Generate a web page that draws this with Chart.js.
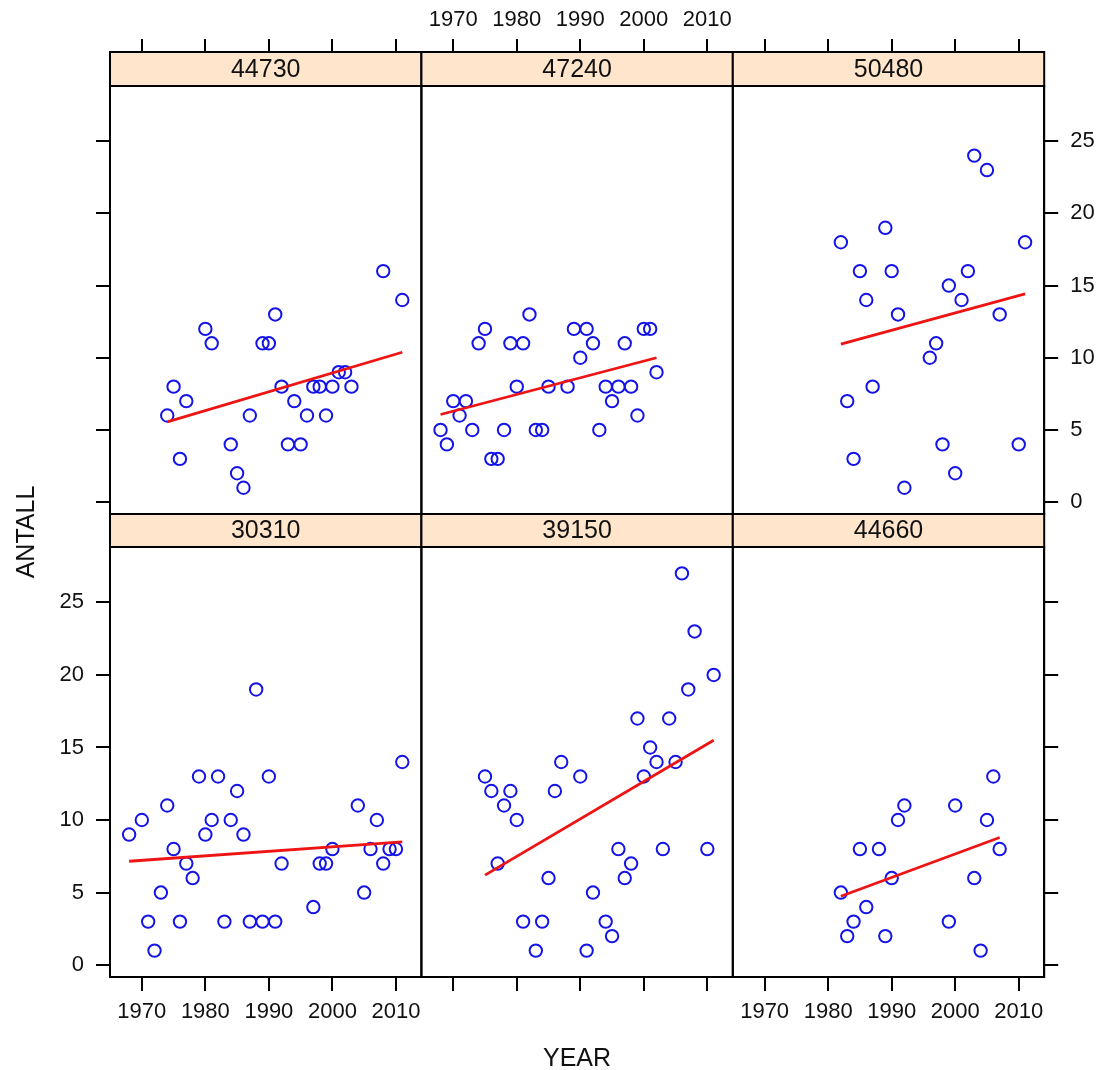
<!DOCTYPE html>
<html><head><meta charset="utf-8">
<script src="https://cdn.jsdelivr.net/npm/chart.js@4.4.1/dist/chart.umd.min.js"></script>
<style>
html,body{margin:0;padding:0;background:#fff;}
#wrap{position:relative;width:1102px;height:1070px;overflow:hidden;background:#fff;}
#wrap canvas{position:absolute;left:0;top:0;}
.lab{position:absolute;font-family:"Liberation Sans",Arial,sans-serif;font-size:25px;color:#111;white-space:nowrap;text-align:center;line-height:30px;height:30px;width:200px;}
#xlab{left:477px;top:1042px;}
#ylab{left:-75px;top:517px;transform:rotate(-90deg);}
</style></head><body>
<div id="wrap">
<canvas id="c0" width="1102" height="1070"></canvas>
<canvas id="c1" width="1102" height="1070"></canvas>
<canvas id="c2" width="1102" height="1070"></canvas>
<canvas id="c3" width="1102" height="1070"></canvas>
<canvas id="c4" width="1102" height="1070"></canvas>
<canvas id="c5" width="1102" height="1070"></canvas>
<div class="lab" id="xlab">YEAR</div>
<div class="lab" id="ylab">ANTALL</div>
</div>
<script>
// ---- data ----
const panelIds = ['44730', '47240', '50480', '30310', '39150', '44660'];

const year44730 = [1974,1975,1976,1977,1980,1981,1984,1985,1986,1987,1989,1990,1991,1992,1993,1994,1995,1996,1997,1998,1999,2000,2001,2002,2003,2008,2011];
const antall44730 = [6,8,3,7,12,11,4,2,1,6,11,11,13,8,4,7,4,6,8,8,6,8,9,9,8,16,14];
const fitYear44730 = [1974, 2011];
const fitAntall44730 = [5.56, 10.38];

const year47240 = [1968,1969,1970,1971,1972,1973,1974,1975,1976,1977,1978,1979,1980,1981,1982,1983,1984,1985,1988,1989,1990,1991,1992,1993,1994,1995,1996,1997,1998,1999,2000,2001,2002];
const antall47240 = [5,4,7,6,7,5,11,12,3,3,5,11,8,11,13,5,5,8,8,12,10,12,11,5,8,7,8,11,8,6,12,12,9];
const fitYear47240 = [1968, 2002];
const fitAntall47240 = [6.07, 10.0];

const year50480 = [1982,1983,1984,1985,1986,1987,1989,1990,1991,1992,1996,1997,1998,1999,2000,2001,2002,2003,2005,2007,2010,2011];
const antall50480 = [18,7,3,16,14,8,19,16,13,1,10,11,4,15,2,14,16,24,23,13,4,18];
const fitYear50480 = [1982, 2011];
const fitAntall50480 = [10.95, 14.42];

const year30310 = [1968,1970,1971,1972,1973,1974,1975,1976,1977,1978,1979,1980,1981,1982,1983,1984,1985,1986,1987,1988,1989,1990,1991,1992,1997,1998,1999,2000,2004,2005,2006,2007,2008,2009,2010,2011];
const antall30310 = [9,10,3,1,5,11,8,3,7,6,13,9,10,13,3,10,12,9,3,19,3,13,3,7,4,7,7,8,11,5,8,10,7,8,8,14];
const fitYear30310 = [1968, 2011];
const fitAntall30310 = [7.16, 8.5];

const year39150 = [1975,1976,1977,1978,1979,1980,1981,1983,1984,1985,1986,1987,1990,1991,1992,1994,1995,1996,1997,1998,1999,2000,2001,2002,2003,2004,2005,2006,2007,2008,2010,2011];
const antall39150 = [13,12,7,11,12,10,3,1,3,6,12,14,13,1,5,3,2,8,6,7,17,13,15,14,8,17,14,27,19,23,8,20];
const fitYear39150 = [1975, 2011];
const fitAntall39150 = [6.2, 15.5];

const year44660 = [1982,1983,1984,1985,1986,1988,1989,1990,1991,1992,1999,2000,2003,2004,2005,2006,2007];
const antall44660 = [5,2,3,8,4,8,2,6,10,11,3,11,6,1,10,13,8];
const fitYear44660 = [1982, 2007];
const fitAntall44660 = [4.75, 8.8];

const xTicks = [1970, 1980, 1990, 2000, 2010];
const xTickLabels = ['1970', '1980', '1990', '2000', '2010'];
const yTicks = [0, 5, 10, 15, 20, 25];
const yTickLabels = ['0', '5', '10', '15', '20', '25'];

const xMin = 1964.99, xMax = 2014.01;
const yMin = -0.82, yMax = 28.82;

const panelYears = [year44730, year47240, year50480, year30310, year39150, year44660];
const panelAntall = [antall44730, antall47240, antall50480, antall30310, antall39150, antall44660];
const panelFitYears = [fitYear44730, fitYear47240, fitYear50480, fitYear30310, fitYear39150, fitYear44660];
const panelFitAntall = [fitAntall44730, fitAntall47240, fitAntall50480, fitAntall30310, fitAntall39150, fitAntall44660];

// ---- layout / style ----
const W = 1102, H = 1070;
const colL = [110, 421.4, 732.8], PW = 311.4;
const rowT = [86, 547], rowB = [514, 977];
const stripT = [52, 514];
const TL = 14, TOPTL = 47;
const FONT = '"Liberation Sans", Arial, sans-serif';
const BLUE = '#1414e6';
const RED = '#ee1414';
const STRIP = '#FFE5CC';

const panelDeco = {
  id: 'panelDeco',
  afterDraw(chart, args, opts) {
    const ctx = chart.ctx, a = chart.chartArea;
    ctx.save();
    ctx.fillStyle = STRIP;
    ctx.fillRect(a.left, opts.stripTop, a.right - a.left, a.top - opts.stripTop);
    ctx.strokeStyle = '#000';
    ctx.lineWidth = 2;
    ctx.strokeRect(a.left, opts.stripTop, a.right - a.left, a.top - opts.stripTop);
    ctx.strokeRect(a.left, a.top, a.right - a.left, a.bottom - a.top);
    ctx.fillStyle = '#111';
    ctx.font = '25px ' + FONT;
    ctx.textAlign = 'center';
    ctx.textBaseline = 'middle';
    ctx.fillText(opts.title, (a.left + a.right) / 2, (opts.stripTop + a.top) / 2 + 1);
    ctx.restore();
  }
};

function makePanel(i) {
  const r = Math.floor(i / 3), c = i % 3;
  const L = colL[c], R = L + PW, T = rowT[r], B = rowB[r];
  const xTop = r === 0;
  const xLabels = (r === 0 && c === 1) || (r === 1 && c !== 1);
  const yPos = c === 0 ? 'left' : (c === 2 ? 'right' : null);
  const yLabels = (r === 0 && c === 2) || (r === 1 && c === 0);
  const pad = {left: 0, right: 0, top: 0, bottom: 0};
  if (xTop) pad.bottom = H - B; else pad.top = T;
  if (c === 1) { pad.left = L; pad.right = W - R; }
  else if (c === 0) { pad.right = W - R; }
  else { pad.left = L; }
  const xSize = xTop ? T : H - B;
  const ySize = c === 0 ? L : W - R;

  const pts = panelYears[i].map((y, k) => ({x: y, y: panelAntall[i][k]}));
  const fit = panelFitYears[i].map((y, k) => ({x: y, y: panelFitAntall[i][k]}));

  return new Chart(document.getElementById('c' + i), {
    type: 'scatter',
    data: {
      datasets: [
        {data: fit, showLine: true, borderColor: RED, borderWidth: 2.8, pointRadius: 0, fill: false, tension: 0},
        {data: pts, showLine: false, pointStyle: 'circle', pointRadius: 6.2, pointBorderWidth: 2,
         pointBorderColor: BLUE, pointBackgroundColor: 'rgba(0,0,0,0)', borderColor: BLUE, backgroundColor: 'rgba(0,0,0,0)'}
      ]
    },
    options: {
      responsive: false,
      animation: false,
      events: [],
      layout: {padding: pad, autoPadding: false},
      plugins: {
        legend: {display: false},
        tooltip: {enabled: false},
        panelDeco: {title: panelIds[i], stripTop: stripT[r]}
      },
      scales: {
        x: {
          type: 'linear', position: xTop ? 'top' : 'bottom', min: xMin, max: xMax,
          afterBuildTicks: s => { s.ticks = xTicks.map(v => ({value: v})); },
          afterFit: s => { s.height = xSize; },
          ticks: {display: xLabels, autoSkip: false, maxRotation: 0, minRotation: 0,
                  callback: v => xTickLabels[xTicks.indexOf(v)],
                  font: {family: FONT, size: 22}, color: '#111', padding: xTop ? 6 : 8},
          grid: {drawOnChartArea: false, drawTicks: true, tickLength: xTop ? TOPTL : TL,
                 color: '#000', tickColor: '#000', lineWidth: 2, tickWidth: 2},
          border: {display: true, color: '#000', width: 2}
        },
        y: {
          type: 'linear', display: yPos !== null, position: yPos || 'left', min: yMin, max: yMax,
          afterBuildTicks: s => { s.ticks = yTicks.map(v => ({value: v})); },
          afterFit: s => { if (yPos !== null) s.width = ySize; },
          ticks: {display: yLabels, autoSkip: false,
                  callback: v => yTickLabels[yTicks.indexOf(v)],
                  font: {family: FONT, size: 22}, color: '#111', padding: 12},
          grid: {drawOnChartArea: false, drawTicks: true, tickLength: TL,
                 color: '#000', tickColor: '#000', lineWidth: 2, tickWidth: 2},
          border: {display: true, color: '#000', width: 2}
        }
      }
    },
    plugins: [panelDeco]
  });
}

for (let i = 0; i < 6; i++) makePanel(i);
</script>
</body></html>
